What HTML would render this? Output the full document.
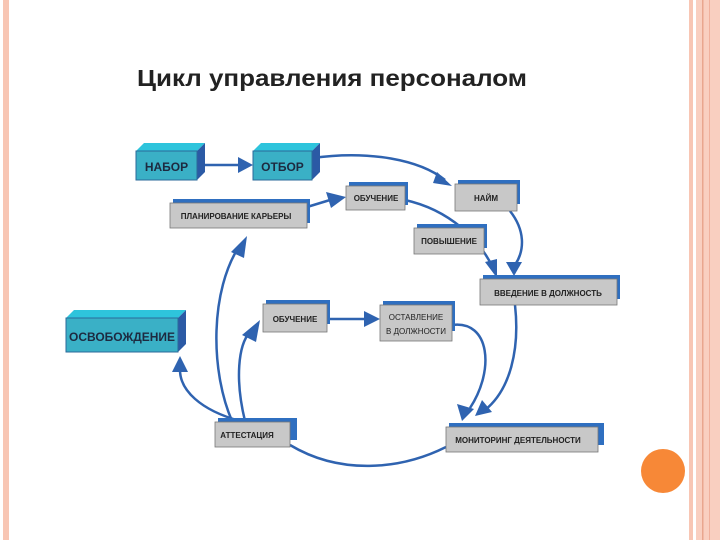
<!DOCTYPE html>
<html><head><meta charset="utf-8"><style>
body{margin:0;width:720px;height:540px;background:#fff;overflow:hidden;font-family:"Liberation Sans",sans-serif}
</style></head><body>
<svg width="720" height="540" viewBox="0 0 720 540" xmlns="http://www.w3.org/2000/svg" font-family="Liberation Sans, sans-serif">
<rect x="3" y="0" width="6" height="540" fill="#f8c6b4"/>
<rect x="689" y="0" width="4" height="540" fill="#f8c6b4"/>
<rect x="696" y="0" width="24" height="540" fill="#f9cfc0"/>
<rect x="702" y="0" width="1.5" height="540" fill="#e9a68e"/>
<rect x="709" y="0" width="1" height="540" fill="#f0b09c"/>
<circle cx="663" cy="471" r="22" fill="#f78837"/>
<text x="137" y="86" font-size="23" font-weight="bold" fill="#222" textLength="390" lengthAdjust="spacingAndGlyphs">Цикл управления персоналом</text>
<g stroke="#2f63b0" stroke-width="2.5" fill="none">
<path d="M197,165 L240,165"/><path d="M238,157 L253,165 L238,173z" fill="#2f63b0" stroke="none"/>
<path d="M312,158 C370,150 420,160 445,180"/><path d="M437,172 L452,186 L433,183z" fill="#2f63b0" stroke="none"/>
<path d="M307,207 L330,200"/><path d="M326,192 L346,197 L331,208z" fill="#2f63b0" stroke="none"/>
<path d="M405,200 C450,210 480,240 493,268"/><path d="M485,262 L497,278 L497,259z" fill="#2f63b0" stroke="none"/>
<path d="M510,211 C525,230 525,250 515,265"/><path d="M506,262 L514,276 L522,262z" fill="#2f63b0" stroke="none"/>
<path d="M515,305 C520,350 510,390 485,410"/><path d="M482,400 L475,416 L492,412z" fill="#2f63b0" stroke="none"/>
<path d="M452,325 C490,320 495,370 470,408"/><path d="M457,404 L462,421 L474,409z" fill="#2f63b0" stroke="none"/>
<path d="M446,447 C400,470 340,475 290,445"/>
<path d="M240,421 C200,410 180,390 180,370"/><path d="M172,372 L180,356 L188,372z" fill="#2f63b0" stroke="none"/>
<path d="M232,421 C210,370 210,290 240,245"/><path d="M231,252 L247,236 L244,258z" fill="#2f63b0" stroke="none"/>
<path d="M245,421 C235,380 238,345 250,332"/><path d="M242,335 L260,320 L256,342z" fill="#2f63b0" stroke="none"/>
<path d="M327,319 L366,319"/><path d="M364,311 L380,319 L364,327z" fill="#2f63b0" stroke="none"/>
</g>
<g>
<polygon points="136,151 144,143 205,143 197,151" fill="#2ec4dc"/><polygon points="197,151 205,143 205,172 197,180" fill="#2b5aa5"/><rect x="136" y="151" width="61" height="29" fill="#3ab0c6" stroke="#2b6a9a" stroke-width="1"/>
<text x="166.5" y="171" font-size="12" font-weight="bold" text-anchor="middle" fill="#1d2a40">НАБОР</text>
<polygon points="253,151 261,143 320,143 312,151" fill="#2ec4dc"/><polygon points="312,151 320,143 320,172 312,180" fill="#2b5aa5"/><rect x="253" y="151" width="59" height="29" fill="#3ab0c6" stroke="#2b6a9a" stroke-width="1"/>
<text x="282.5" y="171" font-size="12" font-weight="bold" text-anchor="middle" fill="#1d2a40">ОТБОР</text>
<polygon points="66,318 74,310 186,310 178,318" fill="#2ec4dc"/><polygon points="178,318 186,310 186,344 178,352" fill="#2b5aa5"/><rect x="66" y="318" width="112" height="34" fill="#3ab0c6" stroke="#2b6a9a" stroke-width="1"/>
<text x="69" y="341" font-size="12" font-weight="bold" fill="#1d2a40" textLength="106" lengthAdjust="spacingAndGlyphs">ОСВОБОЖДЕНИЕ</text>
</g>
<g font-size="8" font-weight="bold" fill="#222" text-anchor="middle">
<rect x="173" y="199" width="137" height="24" fill="#2f6fc0"/><rect x="170" y="203" width="137" height="25" fill="#c8c8c8" stroke="#777" stroke-width="0.8"/><text x="236" y="219">ПЛАНИРОВАНИЕ КАРЬЕРЫ</text>
<rect x="349" y="182" width="59" height="23" fill="#2f6fc0"/><rect x="346" y="186" width="59" height="24" fill="#c8c8c8" stroke="#777" stroke-width="0.8"/><text x="376" y="201">ОБУЧЕНИЕ</text>
<rect x="458" y="180" width="62" height="24" fill="#2f6fc0"/><rect x="455" y="184" width="62" height="27" fill="#c8c8c8" stroke="#777" stroke-width="0.8"/><text x="486" y="201">НАЙМ</text>
<rect x="417" y="224" width="70" height="24" fill="#2f6fc0"/><rect x="414" y="228" width="70" height="26" fill="#c8c8c8" stroke="#777" stroke-width="0.8"/><text x="449" y="244">ПОВЫШЕНИЕ</text>
<rect x="483" y="275" width="137" height="24" fill="#2f6fc0"/><rect x="480" y="279" width="137" height="26" fill="#c8c8c8" stroke="#777" stroke-width="0.8"/><text x="548" y="296">ВВЕДЕНИЕ В ДОЛЖНОСТЬ</text>
<rect x="266" y="300" width="64" height="24" fill="#2f6fc0"/><rect x="263" y="304" width="64" height="28" fill="#c8c8c8" stroke="#777" stroke-width="0.8"/><text x="295" y="322">ОБУЧЕНИЕ</text>
<rect x="383" y="301" width="72" height="30" fill="#2f6fc0"/><rect x="380" y="305" width="72" height="36" fill="#c8c8c8" stroke="#777" stroke-width="0.8"/><text x="416" y="320" font-weight="normal">ОСТАВЛЕНИЕ</text><text x="416" y="334" font-weight="normal">В ДОЛЖНОСТИ</text>
<rect x="218" y="418" width="79" height="22" fill="#2f6fc0"/><rect x="215" y="422" width="75" height="25" fill="#c8c8c8" stroke="#777" stroke-width="0.8"/><text x="247" y="438">АТТЕСТАЦИЯ</text>
<rect x="449" y="423" width="155" height="22" fill="#2f6fc0"/><rect x="446" y="427" width="152" height="25" fill="#c8c8c8" stroke="#777" stroke-width="0.8"/><text x="518" y="443">МОНИТОРИНГ ДЕЯТЕЛЬНОСТИ</text>
</g>
</svg>
</body></html>
